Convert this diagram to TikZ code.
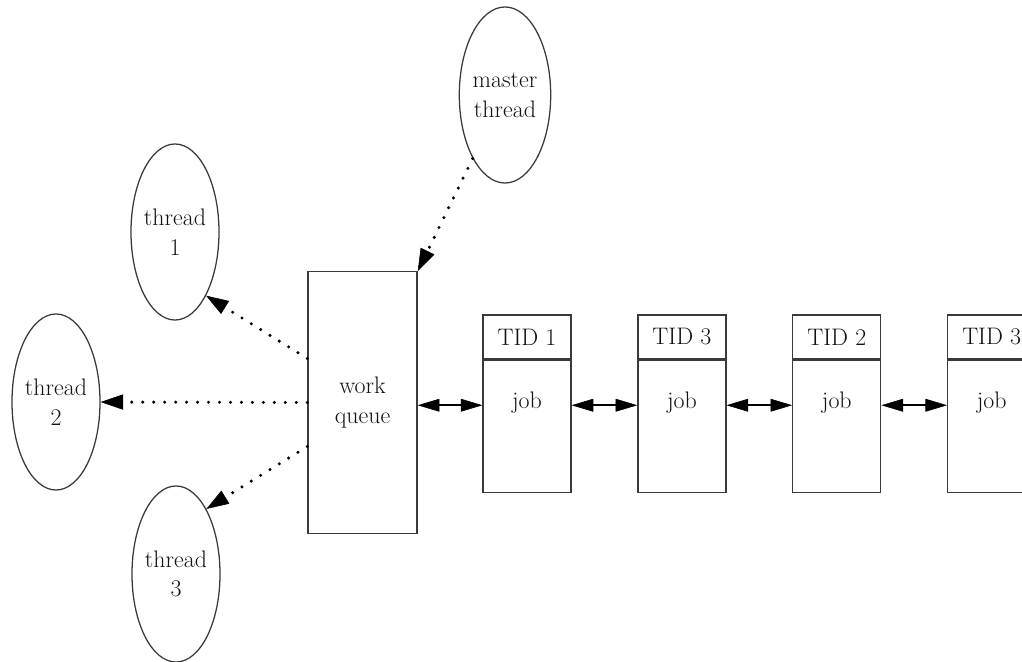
\documentclass[tikz,border=0pt]{standalone}
\usepackage{tikz}
\usetikzlibrary{
  arrows.meta,
  shapes.geometric,
  positioning
}
\newcommand{\wqfont}{\fontsize{17}{21}\selectfont}
\definecolor{wqLine}{HTML}{3A3A3A}
\definecolor{wqText}{HTML}{111111}
\tikzset{
  wqnode/.style={
    draw=wqLine, line width=0.9pt, font=\wqfont, text=wqText, align=center
  },
  thread/.style={wqnode, ellipse, minimum width=2.2cm, minimum height=4.4cm, inner sep=0pt},
  queuebox/.style={wqnode, minimum width=2.73cm, minimum height=6.53cm},
  tidhead/.style={wqnode, minimum width=2.2cm, minimum height=1.1cm, inner sep=0pt},
  jobbody/.style={wqnode, minimum width=2.2cm, text height=1.2cm, text depth=2.1cm, inner sep=0pt},
  handoff/.style={-{Triangle[length=5.6mm, width=3.8mm, line width=0.4pt]}, black,
    line width=2.4pt, line cap=round, dash pattern=on 0pt off 7.8pt},
  link/.style={{Triangle[length=5.4mm, width=3.2mm, line width=0.4pt]}-{Triangle[length=5.4mm, width=3.2mm, line width=0.4pt]},
    line width=1.1pt, black}
}

\begin{document}
\begin{tikzpicture}[x=0.025cm, y=-0.025cm, node distance=1.64cm]
  \useasboundingbox (0,0) rectangle (1022,662);
  \node[thread] (mt) at (505,95) {master\\thread};
  \node[thread] (t1) at (175,232) {thread\\1};
  \node[thread] (t2) at (56,402) {thread\\2};
  \node[thread] (t3) at (176,574) {thread\\3};
  \node[queuebox] (wq) at (362.5,402.5) {work\\queue};
  % job list
  \node[tidhead] (h1) at (527,337) {TID 1};
  \node[tidhead, right=of h1] (h2) {TID 3};
  \node[tidhead, right=of h2] (h3) {TID 2};
  \node[tidhead, right=of h3] (h4) {TID 3};
  \node[jobbody, below=0pt of h1] (j1) {job};
  \node[jobbody, below=0pt of h2] (j2) {job};
  \node[jobbody, below=0pt of h3] (j3) {job};
  \node[jobbody, below=0pt of h4] (j4) {job};
  \draw[handoff] (mt.-117) -- (wq.north east);
  \draw[handoff] ([yshift=1.1cm]wq.west) -- (t1.-64);
  \draw[handoff] (wq.west) -- (t2.east);
  \draw[handoff] ([yshift=-1.1cm]wq.west) -- (t3.65);
  \draw[link] (wq.east |- j1.mid west) -- (j1.mid west);
  \draw[link] (j1.mid east) -- (j2.mid west);
  \draw[link] (j2.mid east) -- (j3.mid west);
  \draw[link] (j3.mid east) -- (j4.mid west);
\end{tikzpicture}
\end{document}
